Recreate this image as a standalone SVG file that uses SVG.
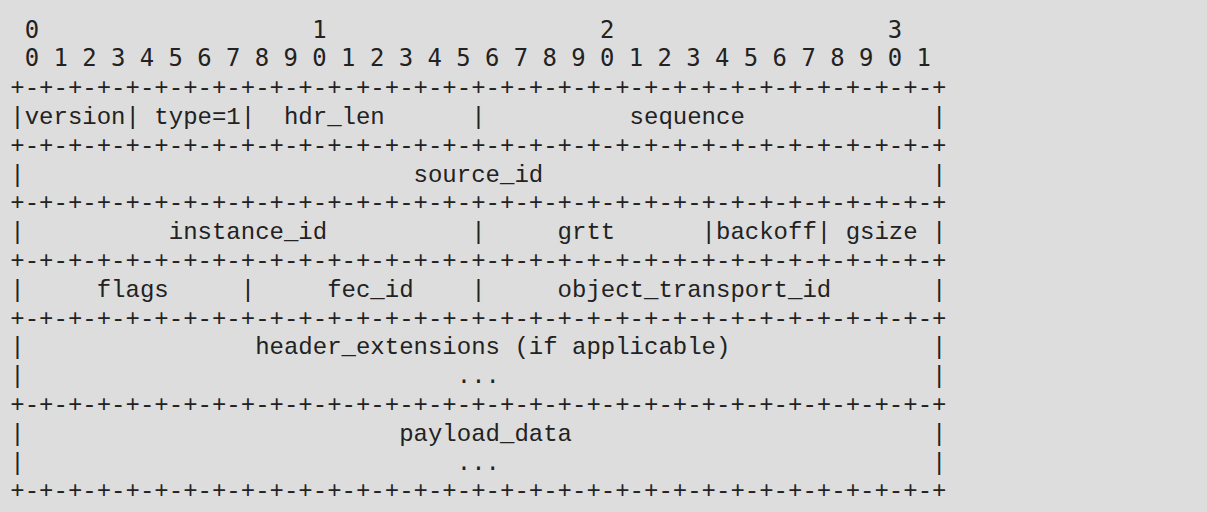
<svg xmlns="http://www.w3.org/2000/svg" width="1207" height="512" viewBox="0 0 1207 512">
  <style>
    .t { font-family: "Liberation Mono", "Courier New", monospace; font-size: 24px; fill: #222222; white-space: pre; }
    .h { font-family: "DejaVu Sans Mono", monospace; font-size: 23.9px; fill: #222222; white-space: pre; }
  </style>
  <rect x="0" y="0" width="1207" height="512" fill="#dddddd"/>
  <g id="ruler">
    <text class="h" x="10.3" y="37.5" xml:space="preserve"> 0                   1                   2                   3</text>
    <text class="h" x="10.3" y="66.3" xml:space="preserve"> 0 1 2 3 4 5 6 7 8 9 0 1 2 3 4 5 6 7 8 9 0 1 2 3 4 5 6 7 8 9 0 1</text>
  </g>
  <g id="connectors">
    <text class="t" x="10.3" y="95.1" xml:space="preserve">+-+-+-+-+-+-+-+-+-+-+-+-+-+-+-+-+-+-+-+-+-+-+-+-+-+-+-+-+-+-+-+-+</text>
    <text class="t" x="10.3" y="152.7" xml:space="preserve">+-+-+-+-+-+-+-+-+-+-+-+-+-+-+-+-+-+-+-+-+-+-+-+-+-+-+-+-+-+-+-+-+</text>
    <text class="t" x="10.3" y="210.3" xml:space="preserve">+-+-+-+-+-+-+-+-+-+-+-+-+-+-+-+-+-+-+-+-+-+-+-+-+-+-+-+-+-+-+-+-+</text>
    <text class="t" x="10.3" y="267.9" xml:space="preserve">+-+-+-+-+-+-+-+-+-+-+-+-+-+-+-+-+-+-+-+-+-+-+-+-+-+-+-+-+-+-+-+-+</text>
    <text class="t" x="10.3" y="325.5" xml:space="preserve">+-+-+-+-+-+-+-+-+-+-+-+-+-+-+-+-+-+-+-+-+-+-+-+-+-+-+-+-+-+-+-+-+</text>
    <text class="t" x="10.3" y="411.9" xml:space="preserve">+-+-+-+-+-+-+-+-+-+-+-+-+-+-+-+-+-+-+-+-+-+-+-+-+-+-+-+-+-+-+-+-+</text>
    <text class="t" x="10.3" y="498.3" xml:space="preserve">+-+-+-+-+-+-+-+-+-+-+-+-+-+-+-+-+-+-+-+-+-+-+-+-+-+-+-+-+-+-+-+-+</text>
  </g>
  <g id="row1">
    <text class="t" x="10.3" y="123.9" xml:space="preserve">|version| type=1|  hdr_len      |          sequence             |</text>
  </g>
  <g id="row2">
    <text class="t" x="10.3" y="181.5" xml:space="preserve">|                           source_id                           |</text>
  </g>
  <g id="row3">
    <text class="t" x="10.3" y="239.1" xml:space="preserve">|          instance_id          |     grtt      |backoff| gsize |</text>
  </g>
  <g id="row4">
    <text class="t" x="10.3" y="296.7" xml:space="preserve">|     flags     |     fec_id    |     object_transport_id       |</text>
  </g>
  <g id="row5">
    <text class="t" x="10.3" y="354.3" xml:space="preserve">|                header_extensions (if applicable)              |</text>
    <text class="t" x="10.3" y="383.1" xml:space="preserve">|                              ...                              |</text>
  </g>
  <g id="row6">
    <text class="t" x="10.3" y="440.7" xml:space="preserve">|                          payload_data                         |</text>
    <text class="t" x="10.3" y="469.5" xml:space="preserve">|                              ...                              |</text>
  </g>
</svg>
